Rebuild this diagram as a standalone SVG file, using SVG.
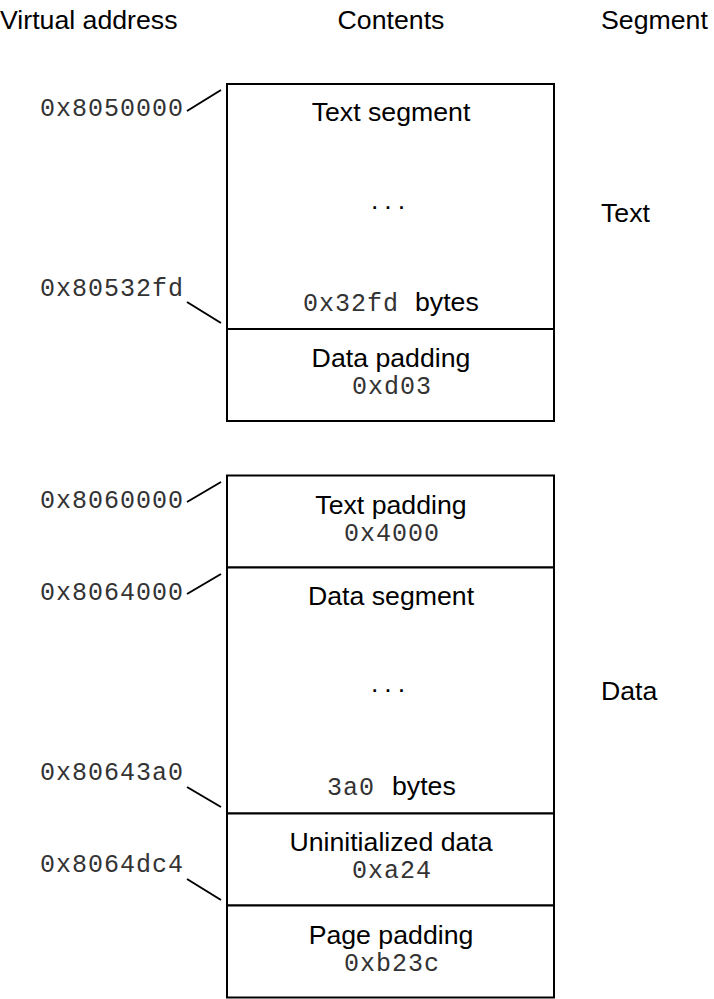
<svg xmlns="http://www.w3.org/2000/svg" width="714" height="999" viewBox="0 0 714 999">
<style>
.s{font-family:"Liberation Sans",Arial,sans-serif;font-size:26.7px;fill:#000}
.m{font-family:"Liberation Mono","Courier New",monospace;font-size:25px;letter-spacing:1px;fill:#333}
.c{text-anchor:middle}
.e{text-anchor:end}
.b{fill:#fff;stroke:#000;stroke-width:2}
.l{stroke:#000;stroke-width:2;fill:none}
</style>
<rect width="714" height="999" fill="#fff"/>
<g id="headers">
<text class="s" x="0" y="29">Virtual address</text>
<text class="s c" x="391" y="29">Contents</text>
<text class="s" x="601" y="29">Segment</text>
</g>
<g id="seg-labels">
<text class="s" x="601" y="222">Text</text>
<text class="s" x="601" y="700">Data</text>
</g>
<g id="text-segment">
<rect class="b" x="227" y="84" width="327" height="245"/>
<text class="s c" x="391" y="121">Text segment</text>
<text class="s c" x="391" y="209" letter-spacing="6">...</text>
<text class="m" x="303" y="311">0x32fd</text>
<text class="s" x="415" y="311">bytes</text>
</g>
<g id="data-padding">
<rect class="b" x="227" y="329" width="327" height="92"/>
<text class="s c" x="391" y="367">Data padding</text>
<text class="m c" x="392" y="394">0xd03</text>
</g>
<g id="text-padding">
<rect class="b" x="227" y="475.5" width="327" height="92"/>
<text class="s c" x="391" y="514">Text padding</text>
<text class="m c" x="392" y="541">0x4000</text>
</g>
<g id="data-segment">
<rect class="b" x="227" y="567.5" width="327" height="246"/>
<text class="s c" x="391" y="605">Data segment</text>
<text class="s c" x="391" y="692" letter-spacing="6">...</text>
<text class="m" x="327" y="795">3a0</text>
<text class="s" x="392" y="795">bytes</text>
</g>
<g id="uninit-data">
<rect class="b" x="227" y="813.5" width="327" height="92"/>
<text class="s c" x="391" y="851">Uninitialized data</text>
<text class="m c" x="392" y="878">0xa24</text>
</g>
<g id="page-padding">
<rect class="b" x="227" y="905.5" width="327" height="92"/>
<text class="s c" x="391" y="944">Page padding</text>
<text class="m c" x="392" y="971">0xb23c</text>
</g>
<g id="addresses">
<text class="m e" x="184" y="116">0x8050000</text>
<text class="m e" x="184" y="296">0x80532fd</text>
<text class="m e" x="184" y="508">0x8060000</text>
<text class="m e" x="184" y="600">0x8064000</text>
<text class="m e" x="184" y="780">0x80643a0</text>
<text class="m e" x="184" y="872">0x8064dc4</text>
</g>
<g id="connectors">
<line class="l" x1="187" y1="111" x2="221" y2="90"/>
<line class="l" x1="187" y1="302" x2="221" y2="323"/>
<line class="l" x1="187" y1="502" x2="221" y2="482"/>
<line class="l" x1="187" y1="594" x2="221" y2="574"/>
<line class="l" x1="187" y1="787" x2="221" y2="807"/>
<line class="l" x1="187" y1="879" x2="221" y2="900"/>
</g>
</svg>
